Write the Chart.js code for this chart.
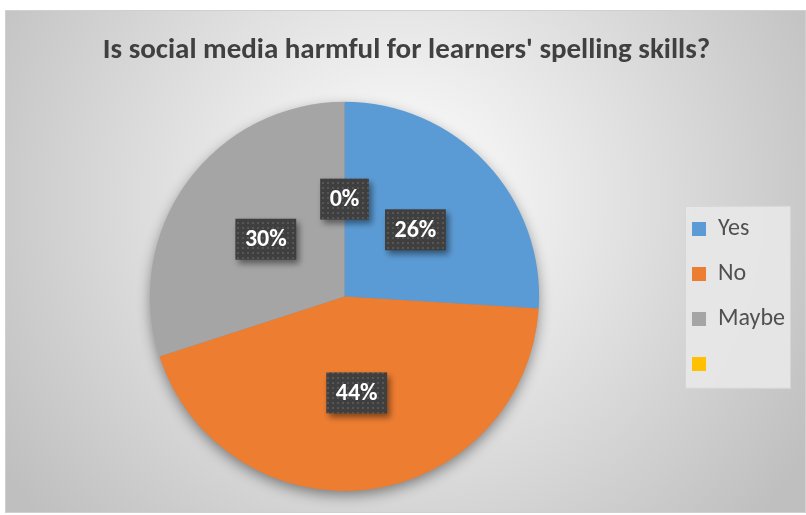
<!DOCTYPE html>
<html><head><meta charset="utf-8">
<script src="https://cdn.jsdelivr.net/npm/chart.js@4"></script>
<style>html,body{margin:0;padding:0;background:#fff}#wrap{width:806px;height:515px;position:relative}</style>
</head><body><div id="wrap"><canvas id="c"></canvas></div>
<script>
const categories = ['Yes', 'No', 'Maybe', ''];
const percentages = [26, 44, 30, 0];
const sliceColors = ['#5B9BD5', '#ED7D31', '#A5A5A5', '#FFC000'];
const chartTitle = "Is social media harmful for learners' spelling skills?";

const FONT = "Carlito, Lato, 'Open Sans', sans-serif";

const pat = document.createElement('canvas');
pat.width = 5; pat.height = 5;
const pctx = pat.getContext('2d');
pctx.fillStyle = '#3f3f3f'; pctx.fillRect(0, 0, 5, 5);
pctx.fillStyle = '#565656'; pctx.fillRect(2, 2, 2, 2);

const bgPlugin = {
  id: 'bg',
  beforeDraw(chart) {
    const ctx = chart.ctx;
    ctx.save();
    ctx.fillStyle = '#ffffff';
    ctx.fillRect(0, 0, chart.width, chart.height);
    const g = ctx.createRadialGradient(400, 200, 0, 400, 200, 480);
    g.addColorStop(0, '#ffffff');
    g.addColorStop(1, '#bfbfbf');
    ctx.fillStyle = g;
    ctx.fillRect(5, 10, 801, 503);
    ctx.strokeStyle = '#d0d0d0';
    ctx.lineWidth = 1;
    ctx.strokeRect(5.5, 10.5, 800, 502);
    const lg = chart.legend;
    if (lg && lg.legendHitBoxes && lg.legendHitBoxes.length) {
      const hb = lg.legendHitBoxes;
      const c0 = hb[0].top + hb[0].height / 2;
      const cl = hb[hb.length - 1].top + hb[hb.length - 1].height / 2;
      const top = c0 - 23;
      const bottom = cl + 24;
      const left = hb[0].left - 7;
      const right = left + 105;
      ctx.fillStyle = 'rgba(232,232,232,0.9)';
      ctx.fillRect(left, top, right - left, bottom - top);
      ctx.strokeStyle = '#d6d6d6';
      ctx.strokeRect(left + 0.5, top + 0.5, right - left, bottom - top);
    }
    ctx.restore();
  },
  beforeDatasetsDraw(chart) {
    const arc = chart.getDatasetMeta(0).data[0];
    if (!arc) return;
    const ctx = chart.ctx;
    ctx.save();
    ctx.shadowColor = 'rgba(0,0,0,0.45)';
    ctx.shadowBlur = 14;
    ctx.shadowOffsetX = 0;
    ctx.shadowOffsetY = 5;
    ctx.fillStyle = '#888';
    ctx.beginPath();
    ctx.arc(arc.x, arc.y, arc.outerRadius - 1, 0, Math.PI * 2);
    ctx.fill();
    ctx.restore();
  },
  afterDatasetsDraw(chart) {
    const ctx = chart.ctx;
    const meta = chart.getDatasetMeta(0);
    const data = chart.data.datasets[0].data;
    ctx.save();
    ctx.font = "bold 24px " + FONT;
    ctx.textAlign = 'center';
    ctx.textBaseline = 'middle';
    const pattern = ctx.createPattern(pat, 'repeat');
    meta.data.forEach((arc, i) => {
      const p = arc.tooltipPosition();
      const txt = data[i] + '%';
      const w = ctx.measureText(txt).width + 19;
      const h = 41;
      const x = p.x - w / 2, y = p.y - h / 2;
      ctx.save();
      ctx.shadowColor = 'rgba(0,0,0,0.45)';
      ctx.shadowBlur = 6;
      ctx.shadowOffsetX = 3;
      ctx.shadowOffsetY = 4;
      ctx.fillStyle = pattern;
      ctx.fillRect(x, y, w, h);
      ctx.restore();
      ctx.fillStyle = '#ffffff';
      ctx.fillText(txt, p.x, p.y + 1);
    });
    ctx.restore();
  }
};

new Chart(document.getElementById('c'), {
  type: 'pie',
  data: {
    labels: categories,
    datasets: [{
      data: percentages,
      backgroundColor: sliceColors,
      borderWidth: 0
    }]
  },
  options: {
    responsive: true,
    maintainAspectRatio: false,
    animation: false,
    layout: { padding: { left: 18, top: 10, bottom: 24, right: 11 } },
    plugins: {
      tooltip: { enabled: false },
      title: {
        display: true,
        text: chartTitle,
        color: '#404040',
        font: { family: FONT, size: 29, weight: 'bold', lineHeight: 1.2 },
        padding: { top: 23, bottom: 34 }
      },
      legend: {
        position: 'right',
        align: 'center',
        fullSize: false,
        labels: {
          color: '#505050',
          font: { family: FONT, size: 24 },
          boxWidth: 14,
          boxHeight: 14,
          padding: 21
        }
      }
    }
  },
  plugins: [bgPlugin]
});
</script>
</body></html>
